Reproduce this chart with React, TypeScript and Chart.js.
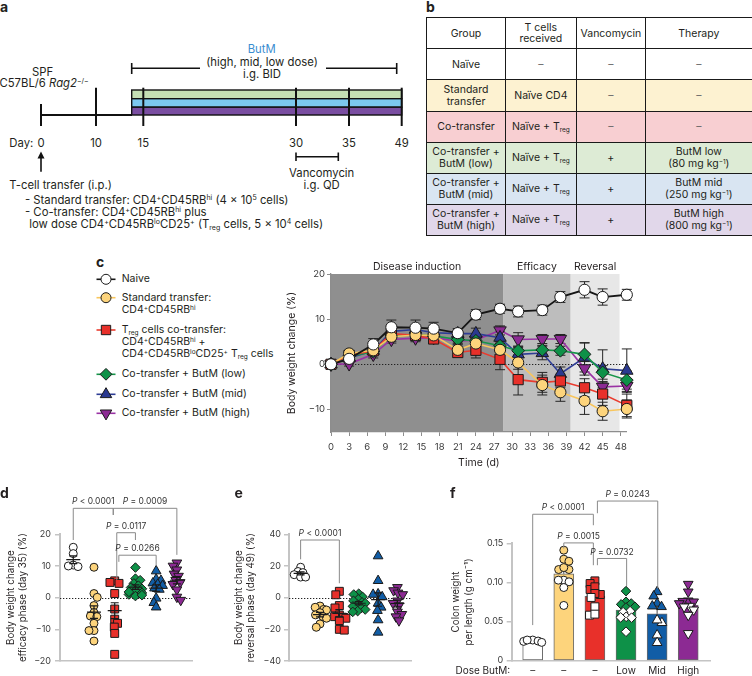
import React, { useEffect, useRef } from "react";
import { Chart, registerables } from "chart.js";

Chart.register(...registerables);

const FONT = "Inter, 'Noto Sans', 'DejaVu Sans', sans-serif";
const INK = "#231f20";
const AXIS_C = "#8d8d8d";
const AXIS_LIGHT = "#c4c4c4";
const BRACKET = "#8a8a8a";
Chart.defaults.font.family = FONT;
Chart.defaults.color = INK;

// ---------------- shared group styling ----------------
const groupFill = ["#ffffff", "#fdd47c", "#e8302a", "#0e9148", "#115da6", "#8c2a93"];
const cMarkerFill = ["#ffffff", "#fdd47c", "#e8302a", "#0e9148", "#2a3990", "#8c2a93"];
const cLineColor = ["#161616", "#f8c65e", "#ea3b2e", "#169549", "#2e3d95", "#9a32a4"];
const groupShape = ["circle", "circle", "rect", "rectRot", "triangle", "triangle"];
const groupRotation = [0, 0, 0, 0, 0, 180];
const cRadius = [5.6, 5.6, 7.2, 6.4, 7.2, 7.2];
const dotRadius = [4, 4, 5.6, 4.8, 5.6, 5.6];

// ---------------- panel c data ----------------
const timeDays = [0, 3, 7, 10, 14, 17, 21, 24, 28, 31, 35, 38, 42, 45, 49];
const timeTicks = [0, 3, 6, 9, 12, 15, 18, 21, 24, 27, 30, 33, 36, 39, 42, 45, 48];
const weightTicks = [-10, 0, 10, 20];
const naiveWeight = [0, 1.2, 4.4, 8.2, 8.1, 7.9, 6.9, 11.0, 12.3, 11.7, 12.0, 14.9, 16.5, 14.9, 15.4];
const standardWeight = [0, 2.4, 3.1, 6.1, 6.5, 6.4, 3.2, 4.6, 3.2, 0.4, -4.6, -6.2, -8.1, -10.4, -9.9];
const cotransferWeight = [0, 2.0, 3.0, 6.8, 6.4, 5.6, 2.6, 3.1, 1.1, -3.4, -4.0, -3.7, -5.2, -6.6, -9.1];
const lowWeight = [0, 1.8, 2.8, 6.5, 6.6, 6.3, 5.5, 5.2, 4.1, 3.0, 3.2, 3.0, 2.2, -1.8, -3.5];
const midWeight = [0, 1.4, 3.0, 7.3, 7.7, 7.0, 6.8, 6.8, 5.9, 2.2, 2.5, -2.1, 1.5, -1.0, -1.4];
const highWeight = [0, 0.1, 2.2, 5.5, 5.8, 5.9, 5.1, 5.4, 7.5, 5.5, 5.6, 5.6, -0.9, -5.0, -4.8];
const naiveSem = [0.3, 0.6, 1.3, 1.6, 1.7, 1.4, 1.0, 1.1, 1.0, 1.2, 1.1, 1.2, 1.8, 1.8, 1.2];
const standardSem = [0.3, 0.6, 0.8, 1.0, 1.0, 1.0, 1.3, 1.2, 1.5, 1.5, 2.2, 2.0, 3.0, 2.0, 2.0];
const cotransferSem = [0.3, 0.5, 0.8, 1.0, 1.0, 0.8, 1.0, 1.7, 2.3, 3.4, 2.2, 1.5, 2.0, 2.5, 2.5];
const lowSem = [0.2, 0.5, 0.8, 0.8, 0.8, 0.8, 0.8, 1.0, 1.0, 1.0, 1.0, 1.0, 2.6, 1.5, 2.0];
const midSem = [0.2, 0.5, 0.8, 0.8, 0.8, 0.8, 0.8, 1.2, 1.3, 1.5, 1.5, 1.5, 3.2, 4.2, 4.8];
const highSem = [0.2, 0.5, 0.8, 0.8, 0.8, 0.8, 0.8, 1.0, 1.0, 1.5, 1.0, 1.0, 1.5, 1.2, 1.2];
const phaseNames = ["Disease induction", "Efficacy", "Reversal"];
const phaseStart = [0, 28.5, 39.7];
const phaseEnd = [28.5, 39.7, 47.8];
const phaseFill = ["#8f8f8f", "#bdbdbd", "#e7e7e7"];

// ---------------- panel d data (day 35) ----------------
const naive35 = [15.9, 13.9, 10.3, 10.0, 9.8];
const standard35 = [9.6, 1.3, 0.1, -2.5, -4.7, -5.8, -6.0, -8.1, -10.4, -10.4, -13.7];
const cotransfer35 = [5.3, 4.8, 4.5, 1.3, -3.6, -6.8, -8.1, -9.3, -11.3, -17.9];
const low35 = [9.5, 6.0, 5.5, 4.5, 3.8, 3.2, 2.8, 2.2, 1.5, 1.0, 0.5, 0.8, 1.8];
const mid35 = [8.4, 5.8, 5.4, 4.6, 4.2, 3.8, 3.0, 2.6, -0.2, -1.6, -3.0];
const high35 = [11.0, 10.0, 8.8, 7.5, 6.8, 5.5, 4.8, 4.2, 2.5, 0.2, -0.8];
const dTicks = [-20, -10, 0, 10, 20];

// ---------------- panel e data (day 49) ----------------
const naive49 = [19.2, 16.5, 15.8, 14.5, 13.0, 13.0];
const standard49 = [-5.3, -6.1, -7.4, -7.8, -9.5, -10.9, -12.0, -13.0, -16.6, -18.7];
const cotransfer49 = [4.0, 1.8, -5.0, -6.5, -11.0, -12.0, -12.5, -13.0, -14.5, -20.0, -20.5];
const low49 = [2.5, 2.0, 0.5, -1.0, -2.0, -3.0, -3.5, -4.5, -5.5, -6.5, -7.5, -8.5, -9.0];
const mid49 = [26.3, 10.7, 2.3, 2.0, 0.5, -3.6, -6.1, -8.2, -14.1, -21.9];
const high49 = [6.5, 4.5, 3.0, 2.0, -2.0, -3.5, -5.0, -9.0, -10.5, -12.0, -14.5];
const eTicks = [-40, -20, 0, 20, 40];

// ---------------- panel f data (colon weight / length) ----------------
const naiveColon = [0.0247, 0.0264, 0.0264, 0.0251, 0.0234];
const standardColon = [0.1412, 0.1297, 0.1271, 0.1165, 0.1165, 0.119, 0.1029, 0.1008, 0.1029, 0.0935, 0.0706];
const cotransferColon = [0.102, 0.0986, 0.091, 0.0944, 0.0846, 0.0859, 0.0808, 0.0689, 0.0582, 0.0595];
const lowColon = [0.0889, 0.0753, 0.0731, 0.072, 0.0689, 0.068, 0.0633, 0.062, 0.0561, 0.0553, 0.055, 0.037];
const midColon = [0.088, 0.0825, 0.0731, 0.0689, 0.0697, 0.0485, 0.0519, 0.0327, 0.023];
const highColon = [0.0978, 0.088, 0.0765, 0.076, 0.0753, 0.0731, 0.0697, 0.0689, 0.065, 0.0582, 0.0349];
const fTicks = [0, 0.05, 0.1, 0.15];
const doseLabels = ["–", "–", "–", "Low", "Mid", "High"];

// significance brackets (data units)
const dBrackets = [
  { x1: 0, x2: 1.93, y: 28.2, y1: 18.2, y2: 26.1, label: "P < 0.0001" },
  { x1: 1.93, x2: 5, y: 28.2, y1: 26.1, y2: 13.5, label: "P = 0.0009" },
  { x1: 2.1, x2: 3, y: 20.5, y1: 5.6, y2: 18.2, label: "P = 0.0117" },
  { x1: 2.2, x2: 4, y: 13.4, y1: 11.3, y2: 10.3, label: "P = 0.0266" },
];
const eBrackets = [{ x1: 0, x2: 2, y: 36.4, y1: 24.2, y2: 9.1, label: "P < 0.0001" }];
const fBrackets = [
  { x1: 0, x2: 1.95, y: 0.1871, y1: 0.0455, y2: 0.1731, label: "P < 0.0001" },
  { x1: 2.08, x2: 4.02, y: 0.204, y1: 0.1884, y2: 0.0923, label: "P = 0.0243" },
  { x1: 1.0, x2: 1.95, y: 0.1505, y1: 0.1434, y2: 0.122, label: "P = 0.0015" },
  { x1: 2.08, x2: 3.02, y: 0.1306, y1: 0.122, y2: 0.0953, label: "P = 0.0732" },
];

// ---------------- table (panel b) ----------------
const tableHead = ["Group", "T cells|received", "Vancomycin", "Therapy"];
const tableGroup = ["Naïve", "Standard|transfer", "Co-transfer", "Co-transfer +|ButM (low)", "Co-transfer +|ButM (mid)", "Co-transfer +|ButM (high)"];
const tableCells = ["–", "Naïve CD4", "Naïve + Treg", "Naïve + Treg", "Naïve + Treg", "Naïve + Treg"];
const tableVanco = ["–", "–", "–", "+", "+", "+"];
const tableTherapy = ["–", "–", "–", "ButM low|(80 mg kg-1)", "ButM mid|(250 mg kg-1)", "ButM high|(800 mg kg-1)"];
const tableRowFill = ["#ffffff", "#fdf2d1", "#f8cfd2", "#ddebd5", "#d9e5f2", "#e1d7ea"];

// ---------------- helpers ----------------
const mean = (v: number[]) => v.reduce((a, b) => a + b, 0) / v.length;
const sem = (v: number[]) => {
  const m = mean(v);
  const sd = Math.sqrt(v.reduce((a, b) => a + (b - m) * (b - m), 0) / (v.length - 1));
  return sd / Math.sqrt(v.length);
};
const minus = (v: number) => (v < 0 ? "−" + Math.abs(v) : String(v));

// beeswarm-style horizontal spread (px), clamped to a maximum half-width
function swarm(values: number[], pxY: number, pxX: number, diam: number, maxPx: number): number[] {
  const idx = values.map((_, i) => i).sort((a, b) => values[b] - values[a]);
  const placed: { x: number; y: number }[] = [];
  const res = new Array(values.length).fill(0);
  idx.forEach((i, k) => {
    const y = values[i] * pxY;
    const near = placed.filter((p) => Math.abs(p.y - y) < diam);
    const cands = [0];
    near.forEach((p) => {
      const w = Math.sqrt(diam * diam - (p.y - y) * (p.y - y));
      cands.push(p.x - w, p.x + w);
    });
    const ok = cands.filter((c) => near.every((p) => (p.x - c) ** 2 + (p.y - y) ** 2 >= diam * diam - 0.01));
    ok.sort((a, b) => Math.abs(a) - Math.abs(b) || (k % 2 ? a - b : b - a));
    const x = Math.max(-maxPx, Math.min(maxPx, ok[0]));
    placed.push({ x, y });
    res[i] = x / pxX;
  });
  return res;
}

function drawPLabel(ctx: CanvasRenderingContext2D, text: string, cx: number, cy: number) {
  const rest = text.slice(1);
  ctx.font = `italic 8.5px ${FONT}`;
  const wP = ctx.measureText("P").width;
  ctx.font = `8.5px ${FONT}`;
  const wR = ctx.measureText(rest).width;
  const x0 = cx - (wP + wR) / 2;
  ctx.fillStyle = "#333";
  ctx.textAlign = "left";
  ctx.textBaseline = "middle";
  ctx.font = `italic 8.5px ${FONT}`;
  ctx.fillText("P", x0, cy);
  ctx.font = `8.5px ${FONT}`;
  ctx.fillText(rest, x0 + wP, cy);
}

function drawBrackets(chart: any, brackets: any[]) {
  const { ctx, scales } = chart;
  const xs = scales.x, ys = scales.y;
  ctx.save();
  ctx.strokeStyle = BRACKET;
  ctx.lineWidth = 1;
  brackets.forEach((b) => {
    const x1 = xs.getPixelForValue(b.x1), x2 = xs.getPixelForValue(b.x2);
    const yt = ys.getPixelForValue(b.y), yl = ys.getPixelForValue(b.y1), yr = ys.getPixelForValue(b.y2);
    ctx.beginPath();
    ctx.moveTo(x1, yl);
    ctx.lineTo(x1, yt);
    ctx.lineTo(x2, yt);
    ctx.lineTo(x2, yr);
    ctx.stroke();
    drawPLabel(ctx, b.label, (x1 + x2) / 2, yt - 6.5);
  });
  ctx.restore();
}

function zeroLine(chart: any) {
  const { ctx, chartArea: ca, scales } = chart;
  const y0 = Math.round(scales.y.getPixelForValue(0)) + 0.5;
  ctx.save();
  ctx.strokeStyle = "#222";
  ctx.lineWidth = 1;
  ctx.setLineDash([1.3, 1.7]);
  ctx.beginPath();
  ctx.moveTo(ca.left, y0);
  ctx.lineTo(ca.right, y0);
  ctx.stroke();
  ctx.restore();
}

const yAxisLight = (ticks: number[], width: number, title: string[], titlePad: number, tickPad: number, fmt: (v: number) => string) => ({
  type: "linear",
  min: ticks[0],
  max: ticks[ticks.length - 1],
  afterBuildTicks: (s: any) => {
    s.ticks = ticks.map((v) => ({ value: v }));
  },
  afterFit: (s: any) => {
    s.width = width;
  },
  grid: { drawOnChartArea: false, drawTicks: true, tickLength: 5, color: AXIS_LIGHT, lineWidth: 1.5 },
  border: { color: AXIS_LIGHT, width: 2 },
  ticks: { font: { size: 9 }, color: "#3a3a3a", padding: tickPad, callback: (v: any) => fmt(v) },
  title: { display: true, text: title, font: { size: 9.8, lineHeight: 1.3 }, color: INK, padding: { top: titlePad, bottom: 0 } },
});

// ---------------- chart configs ----------------
function configC() {
  const series = [naiveWeight, standardWeight, cotransferWeight, lowWeight, midWeight, highWeight];
  const sems = [naiveSem, standardSem, cotransferSem, lowSem, midSem, highSem];
  const plugin = {
    id: "cDecor",
    beforeDraw(chart: any) {
      const { ctx, chartArea: ca, scales } = chart;
      const x = scales.x;
      ctx.save();
      phaseStart.forEach((s, i) => {
        const x0 = x.getPixelForValue(s), x1 = x.getPixelForValue(phaseEnd[i]);
        ctx.fillStyle = phaseFill[i];
        ctx.fillRect(x0, ca.top, x1 - x0, ca.bottom - ca.top);
        ctx.fillStyle = INK;
        ctx.font = `10.5px ${FONT}`;
        ctx.textAlign = "center";
        ctx.textBaseline = "middle";
        ctx.fillText(phaseNames[i], (x0 + x1) / 2, ca.top - 7.5);
      });
      ctx.restore();
      zeroLine(chart);
    },
    beforeDatasetsDraw(chart: any) {
      const { ctx, scales } = chart;
      const x = scales.x, y = scales.y;
      ctx.save();
      ctx.strokeStyle = "#262626";
      ctx.lineWidth = 1;
      chart.data.datasets.forEach((ds: any) => {
        ds.data.forEach((p: any, i: number) => {
          const px = x.getPixelForValue(p.x);
          const e = ds.sem[i];
          const yt = y.getPixelForValue(p.y + e), yb = y.getPixelForValue(p.y - e);
          ctx.beginPath();
          ctx.moveTo(px, yt);
          ctx.lineTo(px, yb);
          ctx.moveTo(px - 5, yt);
          ctx.lineTo(px + 5, yt);
          ctx.moveTo(px - 5, yb);
          ctx.lineTo(px + 5, yb);
          ctx.stroke();
        });
      });
      ctx.restore();
    },
  };
  return {
    type: "line",
    data: {
      datasets: series.map((vals, g) => ({
        data: timeDays.map((d, i) => ({ x: d, y: vals[i] })),
        sem: sems[g],
        borderColor: cLineColor[g],
        borderWidth: g === 0 ? 1.8 : 1.6,
        pointBackgroundColor: cMarkerFill[g],
        pointBorderColor: "#1b1b1b",
        pointBorderWidth: 1,
        pointRadius: cRadius[g],
        pointStyle: groupShape[g],
        pointRotation: groupRotation[g],
        tension: 0,
        clip: false,
      })),
    },
    options: {
      animation: false,
      responsive: false,
      maintainAspectRatio: false,
      events: [],
      layout: { padding: { top: 18, right: 6, left: 0, bottom: 0 } },
      plugins: { legend: { display: false }, tooltip: { enabled: false } },
      scales: {
        x: {
          type: "linear",
          min: 0,
          max: 49,
          afterBuildTicks: (s: any) => {
            s.ticks = timeTicks.map((v) => ({ value: v }));
          },
          afterFit: (s: any) => {
            s.height = 38;
          },
          grid: { drawOnChartArea: false, drawTicks: true, tickLength: 4, color: AXIS_C, lineWidth: 1 },
          border: { color: AXIS_C, width: 1.3 },
          ticks: { font: { size: 9.5 }, color: "#3a3a3a", padding: 5.5, maxRotation: 0, autoSkip: false },
          title: { display: true, text: "Time (d)", font: { size: 10.5 }, color: INK, padding: { top: 0, bottom: 1 } },
        },
        y: {
          type: "linear",
          min: -15,
          max: 20,
          afterBuildTicks: (s: any) => {
            s.ticks = weightTicks.map((v) => ({ value: v }));
          },
          afterFit: (s: any) => {
            s.width = 49;
          },
          grid: { drawOnChartArea: false, drawTicks: true, tickLength: 4, color: AXIS_C, lineWidth: 1 },
          border: { color: AXIS_C, width: 1.3 },
          ticks: { font: { size: 9.5 }, color: "#3a3a3a", padding: 2, callback: (v: any) => minus(v) },
          title: { display: true, text: "Body weight change (%)", font: { size: 10.5 }, color: INK, padding: { top: 3.4, bottom: 0 } },
        },
      },
    },
    plugins: [plugin],
  };
}

function dotConfig(groups: number[][], ticks: number[], xMin: number, xMax: number, pxX: number, pxY: number, yTitle: string[], titlePad: number, tickPad: number, brackets: any[], padRight: number, yWidth: number) {
  const plugin = {
    id: "dotDecor",
    beforeDatasetsDraw(chart: any) {
      zeroLine(chart);
    },
    afterDatasetsDraw(chart: any) {
      const { ctx, scales } = chart;
      ctx.save();
      ctx.strokeStyle = "#1a1a1a";
      ctx.lineWidth = 1.2;
      groups.forEach((vals, g) => {
        const m = mean(vals), s = sem(vals);
        const px = scales.x.getPixelForValue(g);
        const pm = scales.y.getPixelForValue(m), pt = scales.y.getPixelForValue(m + s), pb = scales.y.getPixelForValue(m - s);
        ctx.beginPath();
        ctx.moveTo(px - 7, pm);
        ctx.lineTo(px + 7, pm);
        ctx.moveTo(px, pt);
        ctx.lineTo(px, pb);
        ctx.moveTo(px - 4, pt);
        ctx.lineTo(px + 4, pt);
        ctx.moveTo(px - 4, pb);
        ctx.lineTo(px + 4, pb);
        ctx.stroke();
      });
      ctx.restore();
    },
    afterDraw(chart: any) {
      drawBrackets(chart, brackets);
    },
  };
  return {
    type: "scatter",
    data: {
      datasets: groups.map((vals, g) => {
        const off = swarm(vals, pxY, pxX, 5, 6.5);
        return {
          data: vals.map((v, i) => ({ x: g + off[i], y: v })),
          pointBackgroundColor: groupFill[g],
          pointBorderColor: "#1b1b1b",
          pointBorderWidth: 1,
          pointRadius: dotRadius[g],
          pointStyle: groupShape[g],
          pointRotation: groupRotation[g],
          clip: false,
        };
      }),
    },
    options: {
      animation: false,
      responsive: false,
      maintainAspectRatio: false,
      events: [],
      layout: { padding: { top: 48.3, right: padRight, left: 0, bottom: 0 } },
      plugins: { legend: { display: false }, tooltip: { enabled: false } },
      scales: {
        x: {
          type: "linear",
          min: xMin,
          max: xMax,
          afterFit: (s: any) => {
            s.height = 15;
          },
          grid: { display: false, drawTicks: false },
          border: { color: AXIS_LIGHT, width: 1.5 },
          ticks: { display: false },
        },
        y: yAxisLight(ticks, yWidth, yTitle, titlePad, tickPad, minus),
      },
    },
    plugins: [plugin],
  };
}

function configD() {
  return dotConfig([naive35, standard35, cotransfer35, low35, mid35, high35], dTicks, -0.64, 5.73, 20.7, 3.17, ["Body weight change", "efficacy phase (day 35) (%)"], 4.3, 4, dBrackets, 8, 60);
}

function configE() {
  return dotConfig([naive49, standard49, cotransfer49, low49, mid49, high49], eTicks, -0.6, 5.72, 19.4, 1.5875, ["Body weight change", "reversal phase (day 49) (%)"], 4.2, 3, eBrackets, 6.3, 61);
}

function configF() {
  const groups = [naiveColon, standardColon, cotransferColon, lowColon, midColon, highColon];
  const means = groups.map(mean);
  const plugin = {
    id: "fDecor",
    beforeDatasetsDraw(chart: any) {
      const { ctx, scales } = chart;
      ctx.save();
      ctx.strokeStyle = "#4a4a4a";
      ctx.lineWidth = 1;
      groups.forEach((vals, g) => {
        const px = scales.x.getPixelForValue(g);
        const pm = scales.y.getPixelForValue(means[g]);
        const pt = scales.y.getPixelForValue(means[g] + sem(vals));
        ctx.beginPath();
        ctx.moveTo(px, pm);
        ctx.lineTo(px, pt);
        ctx.moveTo(px - 4, pt);
        ctx.lineTo(px + 4, pt);
        ctx.stroke();
      });
      ctx.restore();
    },
    afterDraw(chart: any) {
      drawBrackets(chart, fBrackets);
      const { ctx, chartArea: ca } = chart;
      ctx.save();
      ctx.fillStyle = INK;
      ctx.font = `10px ${FONT}`;
      ctx.textAlign = "right";
      ctx.textBaseline = "middle";
      ctx.fillText("Dose ButM:", ca.left - 1.5, ca.bottom + 10.3);
      ctx.restore();
    },
  };
  return {
    type: "scatter",
    data: {
      datasets: [
        {
          type: "bar",
          data: means.map((m, g) => ({ x: g, y: m })),
          backgroundColor: groupFill,
          borderColor: "#6a6a6a",
          borderWidth: 1,
          borderSkipped: false,
          barThickness: 20,
          order: 10,
        },
        ...groups.map((vals, g) => {
          const off = swarm(vals, 782.7, 31.1, 5.5, 9);
          return {
            type: "scatter",
            data: vals.map((v, i) => ({ x: g + off[i], y: v })),
            pointBackgroundColor: (c: any) => (c.raw && c.raw.y > means[g] ? groupFill[g] : "#ffffff"),
            pointBorderColor: "#1b1b1b",
            pointBorderWidth: 1,
            pointRadius: dotRadius[g],
            pointStyle: groupShape[g],
            pointRotation: groupRotation[g],
            clip: false,
            order: 0,
          };
        }),
      ],
    },
    options: {
      animation: false,
      responsive: false,
      maintainAspectRatio: false,
      events: [],
      layout: { padding: { top: 57.3, right: 10, left: 0, bottom: 0 } },
      plugins: { legend: { display: false }, tooltip: { enabled: false } },
      scales: {
        x: {
          type: "linear",
          offset: false,
          min: -0.675,
          max: 5.7,
          afterBuildTicks: (s: any) => {
            s.ticks = doseLabels.map((_, i) => ({ value: i }));
          },
          afterFit: (s: any) => {
            s.height = 15.3;
          },
          grid: { display: false, drawTicks: false },
          border: { color: AXIS_LIGHT, width: 1.5 },
          ticks: { font: { size: 10 }, color: INK, padding: 4, maxRotation: 0, autoSkip: false, callback: (_v: any, i: number) => doseLabels[i] },
        },
        y: yAxisLight(fTicks, 71.7, ["Colon weight", "per length (g cm⁻¹)"], 10, 3.4, (v) => (v === 0 ? "0" : v.toFixed(2))),
      },
    },
    plugins: [plugin],
  };
}

// ---------------- components ----------------
function ChartCanvas({ left, top, width, height, make }: any) {
  const ref = useRef<HTMLCanvasElement>(null);
  useEffect(() => {
    const chart = new Chart(ref.current as HTMLCanvasElement, make());
    return () => chart.destroy();
  }, []);
  return <canvas ref={ref} width={width} height={height} style={{ position: "absolute", left, top, width, height }} />;
}

const sup = (s: string) => <sup style={{ fontSize: "0.62em", verticalAlign: "0.5em", lineHeight: 0 }}>{s}</sup>;
const sub = (s: string) => <sub style={{ fontSize: "0.62em", verticalAlign: "-0.3em", lineHeight: 0 }}>{s}</sub>;

function Txt({ x, y, a = "l", s = 10.5, w = 400, c = INK, children, st = {} }: any) {
  const tx = a === "c" ? "-50%" : a === "r" ? "-100%" : "0";
  return (
    <div style={{ position: "absolute", left: x, top: y, transform: `translate(${tx}, -50%)`, fontSize: s, fontWeight: w, color: c, whiteSpace: "nowrap", lineHeight: 1.15, fontFamily: FONT, ...st }}>
      {children}
    </div>
  );
}

function rich(s: string) {
  return s.split("|").map((line, i) => (
    <div key={i}>
      {line.split(/(Treg|kg-1)/).map((part, j) =>
        part === "Treg" ? <span key={j}>T{sub("reg")}</span> : part === "kg-1" ? <span key={j}>kg{sup("−1")}</span> : <span key={j}>{part}</span>
      )}
    </div>
  ));
}

function PanelB() {
  const cols = [79, 70.7, 69.3, 106.7];
  const rows = [31, 31, 31.7, 30.7, 31, 31.3, 31];
  const cells: any[] = [];
  tableHead.forEach((h, ci) => cells.push({ text: h, fill: "#fff", ri: 0, ci }));
  tableGroup.forEach((g, ri) => {
    [g, tableCells[ri], tableVanco[ri], tableTherapy[ri]].forEach((t, ci) => cells.push({ text: t, fill: tableRowFill[ri], ri: ri + 1, ci }));
  });
  return (
    <div style={{ position: "absolute", left: 426, top: 17.3, display: "grid", gridTemplateColumns: cols.map((c) => c + "px").join(" "), gridTemplateRows: rows.map((r) => r + "px").join(" "), borderLeft: "1.3px solid #1a1a1a", borderTop: "1.3px solid #1a1a1a" }}>
      {cells.map((c, k) => (
        <div key={k} style={{ background: c.fill, borderRight: "1.3px solid #1a1a1a", borderBottom: "1.3px solid #1a1a1a", boxSizing: "border-box", display: "flex", flexDirection: "column", alignItems: "center", justifyContent: "center", textAlign: "center", fontSize: 10.5, lineHeight: "11.5px", color: c.text === "–" ? "#666" : INK }}>
          {rich(c.text)}
        </div>
      ))}
    </div>
  );
}

function markerPath(shape: string, cx: number, cy: number, r: number, rot: number) {
  if (shape === "circle") return null;
  if (shape === "rect") {
    const h = r * Math.SQRT1_2;
    return `M${cx - h},${cy - h}h${2 * h}v${2 * h}h${-2 * h}Z`;
  }
  if (shape === "rectRot") return `M${cx - r},${cy}L${cx},${cy - r}L${cx + r},${cy}L${cx},${cy + r}Z`;
  let rad = (rot * Math.PI) / 180;
  const pts = [];
  for (let k = 0; k < 3; k++) {
    pts.push(`${cx + Math.sin(rad) * r},${cy - Math.cos(rad) * r}`);
    rad += (2 * Math.PI) / 3;
  }
  return `M${pts.join("L")}Z`;
}

const legendY = [279.3, 297.7, 330, 374.3, 394.3, 413.3];
const legendLines: any[] = [
  [<>Naive</>],
  [<>Standard transfer:</>, <>CD4{sup("+")}CD45RB{sup("hi")}</>],
  [<>T{sub("reg")} cells co-transfer:</>, <>CD4{sup("+")}CD45RB{sup("hi")} +</>, <>CD4{sup("+")}CD45RB{sup("lo")}CD25{sup("+")} T{sub("reg")} cells</>],
  [<>Co-transfer + ButM (low)</>],
  [<>Co-transfer + ButM (mid)</>],
  [<>Co-transfer + ButM (high)</>],
];

// schematic layout of panel a (positions of day marks along the drawn timeline)
const scheduleDays = ["0", "10", "15", "30", "35", "49"];
const scheduleX = [41, 96, 143.3, 296, 349, 401.7];
const butmStrip = ["#c5e0b4", "#7cc8ef", "#7a4ea1"];
const A_SIZE = 11.3;

function Overlay() {
  const stripTop = [90, 98.7, 107.2];
  const stripH = [8.7, 8.5, 7.8];
  return (
    <svg width={752} height={676} style={{ position: "absolute", left: 0, top: 0 }}>
      <line x1={41} y1={115} x2={132} y2={115} stroke="#111" strokeWidth={2} />
      {butmStrip.map((c, i) => (
        <rect key={i} x={131.7} y={stripTop[i]} width={270} height={stripH[i]} fill={c} stroke="#111" strokeWidth={1.4} />
      ))}
      {scheduleX.map((x, i) => (
        <line key={i} x1={x} y1={i === 0 ? 104 : 87.7} x2={x} y2={126} stroke="#111" strokeWidth={2} />
      ))}
      <g stroke="#111" strokeWidth={1.6}>
        <line x1={131.7} y1={68.3} x2={200} y2={68.3} />
        <line x1={326} y1={68.3} x2={396.7} y2={68.3} />
        <line x1={131.7} y1={63} x2={131.7} y2={74} />
        <line x1={396.7} y1={63} x2={396.7} y2={74} />
        <line x1={296} y1={156.7} x2={338.3} y2={156.7} />
        <line x1={296} y1={152.5} x2={296} y2={161} />
        <line x1={338.3} y1={152.5} x2={338.3} y2={161} />
        <line x1={41} y1={171.7} x2={41} y2={157} />
      </g>
      <path d="M41,151.5 L37.5,158.5 L44.5,158.5 Z" fill="#111" />
      {legendY.map((y, g) => {
        const d = markerPath(groupShape[g], 106, y, cRadius[g] * 0.92, groupRotation[g]);
        return (
          <g key={g}>
            <line x1={96.5} y1={y} x2={115.5} y2={y} stroke={cLineColor[g]} strokeWidth={1.6} />
            {d ? <path d={d} fill={cMarkerFill[g]} stroke="#1b1b1b" strokeWidth={1} /> : <circle cx={106} cy={y} r={5} fill={cMarkerFill[g]} stroke="#1b1b1b" strokeWidth={1} />}
          </g>
        );
      })}
    </svg>
  );
}

export default function App() {
  useEffect(() => {
    document.body.style.margin = "0";
  }, []);
  return (
    <div style={{ position: "fixed", left: 0, top: 0, width: 752, height: 676, background: "#fff", overflow: "hidden", fontFamily: FONT, color: INK }}>
      <Overlay />
      <Txt x={0} y={6.5} s={14} w={700}>a</Txt>
      <Txt x={261.7} y={49.3} a="c" s={A_SIZE} c="#3a8dd0">ButM</Txt>
      <Txt x={262} y={61.7} a="c" s={A_SIZE}>(high, mid, low dose)</Txt>
      <Txt x={262} y={73.5} a="c" s={A_SIZE}>i.g. BID</Txt>
      <Txt x={42.7} y={71.7} a="c" s={A_SIZE}>SPF</Txt>
      <Txt x={-0.5} y={82.9} s={A_SIZE}>C57BL/6 <i>Rag2</i>{sup("−/−")}</Txt>
      <Txt x={9.3} y={143.3} s={A_SIZE}>Day:</Txt>
      {scheduleDays.map((d, i) => (
        <Txt key={i} x={scheduleX[i]} y={143.3} a="c" s={A_SIZE}>{d}</Txt>
      ))}
      <Txt x={321.7} y={173.3} a="c" s={A_SIZE}>Vancomycin</Txt>
      <Txt x={321.7} y={184.8} a="c" s={A_SIZE}>i.g. QD</Txt>
      <Txt x={9.3} y={184.8} s={A_SIZE}>T-cell transfer (i.p.)</Txt>
      <Txt x={25} y={199.7} s={A_SIZE}>- Standard transfer: CD4{sup("+")}CD45RB{sup("hi")} (4 × 10{sup("5")} cells)</Txt>
      <Txt x={25} y={212.3} s={A_SIZE}>- Co-transfer: CD4{sup("+")}CD45RB{sup("hi")} plus</Txt>
      <Txt x={29.3} y={224.4} s={A_SIZE}>low dose CD4{sup("+")}CD45RB{sup("lo")}CD25{sup("+")} (T{sub("reg")} cells, 5 × 10{sup("4")} cells)</Txt>
      <Txt x={426} y={7} s={14} w={700}>b</Txt>
      <PanelB />
      <Txt x={96} y={261.5} s={14} w={700}>c</Txt>
      {legendLines.map((lines, g) =>
        lines.map((l: any, k: number) => (
          <Txt key={g + "-" + k} x={121.7} y={legendY[g] + k * 12.2}>{l}</Txt>
        ))
      )}
      <ChartCanvas left={282} top={256} width={353} height={214} make={configC} />
      <ChartCanvas left={0} top={486} width={200} height={190} make={configD} />
      <ChartCanvas left={228} top={486} width={190} height={190} make={configE} />
      <ChartCanvas left={440} top={486} width={280} height={190} make={configF} />
      <Txt x={0} y={492.5} s={14} w={700}>d</Txt>
      <Txt x={234.5} y={492.5} s={14} w={700}>e</Txt>
      <Txt x={450} y={492.5} s={14} w={700}>f</Txt>
    </div>
  );
}
